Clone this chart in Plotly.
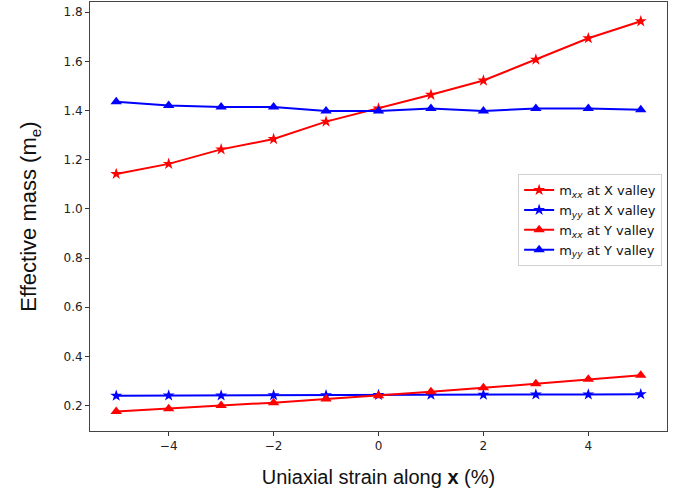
import plotly.graph_objects as go

strain = [-5, -4, -3, -2, -1, 0, 1, 2, 3, 4, 5]
mxx_X = [1.142, 1.183, 1.242, 1.284, 1.355, 1.408, 1.464, 1.522, 1.607, 1.694, 1.763]
myy_X = [0.240, 0.241, 0.241, 0.242, 0.242, 0.243, 0.244, 0.244, 0.245, 0.245, 0.246]
mxx_Y = [0.176, 0.187, 0.200, 0.212, 0.227, 0.240, 0.256, 0.272, 0.289, 0.307, 0.323]
myy_Y = [1.436, 1.420, 1.414, 1.414, 1.398, 1.398, 1.408, 1.398, 1.408, 1.408, 1.403]

yticks = [0.2, 0.4, 0.6, 0.8, 1.0, 1.2, 1.4, 1.6, 1.8]
xticks = [-4, -2, 0, 2, 4]

fig = go.Figure()
series = [
    (mxx_X, "m<sub><i>xx</i></sub> at X valley", "red", "star", 9),
    (myy_X, "m<sub><i>yy</i></sub> at X valley", "blue", "star", 9),
    (mxx_Y, "m<sub><i>xx</i></sub> at Y valley", "red", "triangle-up", 10),
    (myy_Y, "m<sub><i>yy</i></sub> at Y valley", "blue", "triangle-up", 10),
]
for vals, name, color, sym, size in series:
    fig.add_trace(go.Scatter(
        x=strain, y=vals, name=name, mode="lines+markers",
        line=dict(color=color, width=2),
        marker=dict(symbol=sym, size=size, color=color, line=dict(width=0)),
    ))

fig.update_layout(
    width=691, height=491,
    margin=dict(l=90, r=24, t=2, b=60),
    paper_bgcolor="white", plot_bgcolor="white",
    font=dict(family="DejaVu Sans", size=12, color="#222"),
    showlegend=True,
    legend=dict(
        x=0.742, y=0.599, xanchor="left", yanchor="top",
        bgcolor="rgba(255,255,255,0.9)", bordercolor="#d0d0d0", borderwidth=1,
        font=dict(family="DejaVu Sans", size=13, color="#111"),
        tracegroupgap=0,
    ),
    xaxis=dict(
        range=[-5.5, 5.5], tickvals=xticks, ticks="outside", ticklen=4, tickwidth=1,
        tickcolor="#333", showgrid=False, zeroline=False,
        showline=True, linecolor="#444", linewidth=1, mirror=True,
        tickfont=dict(family="DejaVu Sans", size=12, color="#222"),
        title=dict(text="Uniaxial strain along <b>x</b> (%)", standoff=17,
                   font=dict(family="Liberation Sans", size=20, color="#111")),
    ),
    yaxis=dict(
        range=[0.0966, 1.8414], tickvals=yticks, tickformat=".1f",
        ticks="outside", ticklen=4, tickwidth=1, tickcolor="#333",
        showgrid=False, zeroline=False,
        showline=True, linecolor="#444", linewidth=1, mirror=True,
        tickfont=dict(family="DejaVu Sans", size=12, color="#222"),
        title=dict(text="Effective mass (m<sub>e</sub>)", standoff=20,
                   font=dict(family="Liberation Sans", size=22, color="#111")),
    ),
)

fig.write_html("out.html")
